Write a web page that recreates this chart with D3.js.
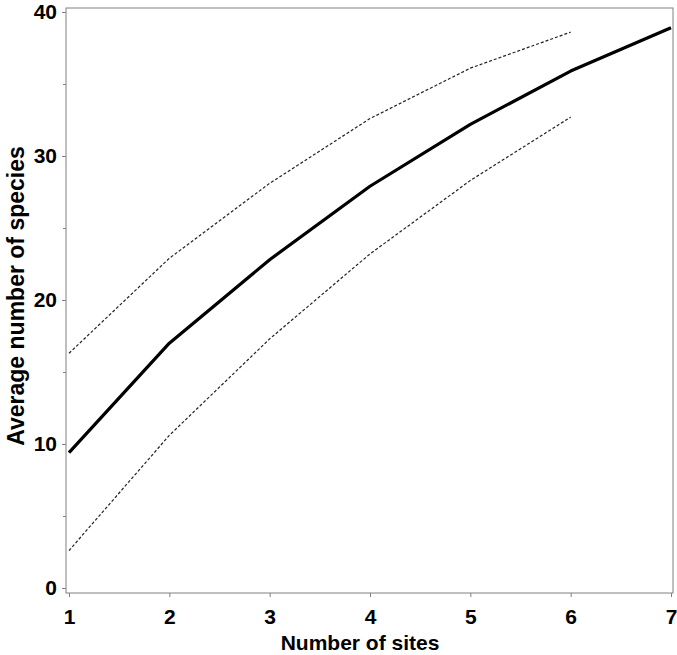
<!DOCTYPE html>
<html>
<head>
<meta charset="utf-8">
<script src="https://cdn.jsdelivr.net/npm/d3@7"></script>
<style>
  body { margin: 0; background: #fff; }
  text { font-family: "Liberation Sans", Arial, sans-serif; font-weight: bold; }
</style>
</head>
<body>
<div id="chart"></div>
<script>
var svgWidth = 677;
var svgHeight = 655;

// data
var sites = [1, 2, 3, 4, 5, 6, 7];
var meanSpecies = [9.4, 17.0, 22.8, 27.9, 32.2, 35.9, 38.9];
var upperSpecies = [16.3, 22.9, 28.1, 32.6, 36.1, 38.6];
var lowerSpecies = [2.6, 10.6, 17.3, 23.2, 28.3, 32.7];
var yTicks = [0, 10, 20, 30, 40];
var yMinorTicks = [5, 15, 25, 35];

var frame = { left: 66, right: 673, top: 8, bottom: 593 };

var svg = d3.select("#chart")
  .append("svg")
  .attr("width", svgWidth)
  .attr("height", svgHeight);

var xScale = d3.scaleLinear()
  .domain([1, 7])
  .range([69, 671]);

var yScale = d3.scaleLinear()
  .domain([0, 40])
  .range([588, 12]);

// frame
svg.append("rect")
  .attr("x", frame.left)
  .attr("y", frame.top)
  .attr("width", frame.right - frame.left)
  .attr("height", frame.bottom - frame.top)
  .attr("fill", "none")
  .attr("stroke", "#808080")
  .attr("stroke-width", 1);

// axes
var bottomAxis = d3.axisBottom(xScale)
  .tickValues(sites)
  .tickSize(4)
  .tickPadding(12)
  .tickFormat(d3.format("d"));

var leftAxis = d3.axisLeft(yScale)
  .tickValues(yTicks)
  .tickSize(4)
  .tickPadding(5)
  .tickFormat(d3.format("d"));

var xAxisG = svg.append("g")
  .attr("transform", "translate(0," + frame.bottom + ")")
  .call(bottomAxis);

var yAxisG = svg.append("g")
  .attr("transform", "translate(" + frame.left + ",0)")
  .call(leftAxis);

svg.append("g")
  .attr("transform", "translate(" + frame.left + ",0)")
  .call(d3.axisLeft(yScale).tickValues(yMinorTicks).tickSize(3).tickFormat(""))
  .select(".domain").remove();

[xAxisG, yAxisG].forEach(function(g) {
  g.select(".domain").remove();
  g.selectAll(".tick text")
    .attr("fill", "#000")
    .style("font-size", "21px")
    .style("font-family", "'Liberation Sans', Arial, sans-serif")
    .style("font-weight", "bold");
});
svg.selectAll(".tick line").attr("stroke", "#808080");

// lines
var line = d3.line()
  .x(function(d, i) { return xScale(sites[i]); })
  .y(function(d) { return yScale(d); });

[upperSpecies, lowerSpecies].forEach(function(s) {
  svg.append("path")
    .datum(s)
    .attr("d", line)
    .attr("fill", "none")
    .attr("stroke", "#222")
    .attr("stroke-width", 1.2)
    .attr("stroke-dasharray", "3,2");
});

svg.append("path")
  .datum(meanSpecies)
  .attr("d", line)
  .attr("fill", "none")
  .attr("stroke", "#000")
  .attr("stroke-width", 3.2)
  .attr("stroke-linejoin", "round");

// axis titles
svg.append("text")
  .attr("x", 360)
  .attr("y", 650)
  .attr("text-anchor", "middle")
  .style("font-size", "21px")
  .text("Number of sites");

svg.append("text")
  .attr("transform", "translate(24,296) rotate(-90)")
  .attr("text-anchor", "middle")
  .style("font-size", "23px")
  .text("Average number of species");
</script>
</body>
</html>
